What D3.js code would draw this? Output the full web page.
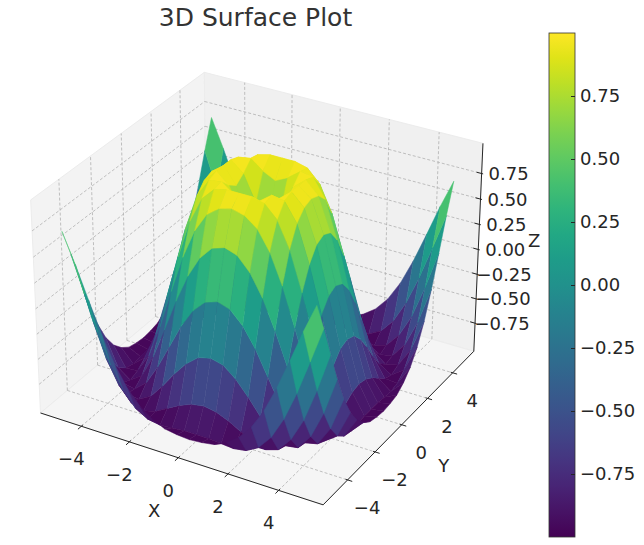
<!DOCTYPE html>
<html>
<head>
<meta charset="utf-8">
<script src="https://cdn.jsdelivr.net/npm/d3@7"></script>
<style>
  body { margin: 0; background: #fff; }
  text { font-family: "DejaVu Sans", sans-serif; }
</style>
</head>
<body>
<script>
// surface grid (x and y share the same steps)
var gridX = [-5, -4.5, -4, -3.5, -3, -2.5, -2, -1.5, -1, -0.5, 0, 0.5, 1, 1.5, 2, 2.5, 3, 3.5, 4, 4.5, 5]
var gridY = [-5, -4.5, -4, -3.5, -3, -2.5, -2, -1.5, -1, -0.5, 0, 0.5, 1, 1.5, 2, 2.5, 3, 3.5, 4, 4.5, 5]

// z for the quarter x >= 0, y >= 0 (row = |x| step, col = |y| step, 0 .. 5 by 0.5)
// the surface is mirrored into the other three quarters
var zQuarter = [
    [ 0.00,  0.48,  0.84,  1.00,  0.91,  0.60,  0.14, -0.35, -0.76, -0.98, -0.96],
    [ 0.48,  0.65,  0.90,  1.00,  0.88,  0.56,  0.10, -0.38, -0.78, -0.98, -0.95],
    [ 0.84,  0.90,  0.99,  0.97,  0.79,  0.43, -0.02, -0.48, -0.83, -0.99, -0.93],
    [ 1.00,  1.00,  0.97,  0.85,  0.60,  0.22, -0.21, -0.62, -0.90, -1.00, -0.87],
    [ 0.91,  0.88,  0.79,  0.60,  0.31, -0.06, -0.45, -0.78, -0.97, -0.98, -0.78],
    [ 0.60,  0.56,  0.43,  0.22, -0.06, -0.38, -0.69, -0.92, -1.00, -0.91, -0.64],
    [ 0.14,  0.10, -0.02, -0.21, -0.45, -0.69, -0.89, -0.99, -0.96, -0.77, -0.44],
    [-0.35, -0.38, -0.48, -0.62, -0.78, -0.92, -0.99, -0.97, -0.82, -0.55, -0.18],
    [-0.76, -0.78, -0.83, -0.90, -0.97, -1.00, -0.96, -0.82, -0.59, -0.26,  0.12],
    [-0.98, -0.98, -0.99, -1.00, -0.98, -0.91, -0.77, -0.55, -0.26,  0.08,  0.43],
    [-0.96, -0.95, -0.93, -0.87, -0.78, -0.64, -0.44, -0.18,  0.12,  0.43,  0.71]
]

var xTicks = [-4, -2, 0, 2, 4]
var yTicks = [-4, -2, 0, 2, 4]
var zTicks = [-0.75, -0.5, -0.25, 0, 0.25, 0.5, 0.75]
var cbarTicks = [-0.75, -0.5, -0.25, 0, 0.25, 0.5, 0.75]

var W = 644, H = 545
var svg = d3.select('body').append('svg')
    .attr('width', W)
    .attr('height', H)

// full z grid
var mid = (gridX.length - 1) / 2
var Z = gridX.map(function (x, i) {
    return gridY.map(function (y, j) {
        return zQuarter[Math.abs(i - mid)][Math.abs(j - mid)]
    })
})

// camera, same as matplotlib default view (elev 30, azim -60, perspective)
var elev = 30 * Math.PI / 180, azim = -60 * Math.PI / 180, dist = 10
var w = [Math.cos(elev) * Math.cos(azim), Math.cos(elev) * Math.sin(azim), Math.sin(elev)]
var u = [-Math.sin(azim), Math.cos(azim), 0]
var v = [-Math.sin(elev) * Math.cos(azim), -Math.sin(elev) * Math.sin(azim), Math.cos(elev)]

// pane extents in data units
var xLo = -5.729, xHi = 5.729, yLo = -5.729, yHi = 5.729, zLo = -1.0417, zHi = 1.0417

var sx = d3.scaleLinear().domain([xLo, xHi]).range([-4 / 7, 4 / 7])
var sy = d3.scaleLinear().domain([yLo, yHi]).range([-4 / 7, 4 / 7])
var sz = d3.scaleLinear().domain([zLo, zHi]).range([-3 / 7, 3 / 7])
var px = d3.scaleLinear().domain([0, 0.1]).range([261, 261 + 283.4])
var py = d3.scaleLinear().domain([0, 0.1]).range([278.6, 278.6 - 283.4])

function dot(a, b) { return a[0] * b[0] + a[1] * b[1] + a[2] * b[2] }

function project(x, y, z) {
    var d = [sx(x), sy(y), sz(z)]
    var dw = dot(w, d), k = dist - dw
    return { x: px(dot(u, d) / k), y: py(dot(v, d) / k), depth: dw }
}

function poly(pts) {
    return 'M' + pts.map(function (p) {
        var q = project(p[0], p[1], p[2])
        return q.x.toFixed(2) + ',' + q.y.toFixed(2)
    }).join('L') + 'Z'
}

function seg(a, b) {
    var p = project(a[0], a[1], a[2]), q = project(b[0], b[1], b[2])
    return 'M' + p.x + ',' + p.y + 'L' + q.x + ',' + q.y
}

// panes
var panes = svg.append('g')
panes.append('path').attr('d', poly([[xLo, yLo, zLo], [xLo, yHi, zLo], [xLo, yHi, zHi], [xLo, yLo, zHi]]))
    .attr('fill', '#f3f3f3').attr('stroke', '#ececec')
panes.append('path').attr('d', poly([[xLo, yHi, zLo], [xHi, yHi, zLo], [xHi, yHi, zHi], [xLo, yHi, zHi]]))
    .attr('fill', '#f0f0f0').attr('stroke', '#ececec')
panes.append('path').attr('d', poly([[xLo, yLo, zLo], [xHi, yLo, zLo], [xHi, yHi, zLo], [xLo, yHi, zLo]]))
    .attr('fill', '#f5f5f5').attr('stroke', '#ececec')

// grid
var gridLines = []
xTicks.forEach(function (t) {
    gridLines.push([[t, yLo, zLo], [t, yHi, zLo]])
    gridLines.push([[t, yHi, zLo], [t, yHi, zHi]])
})
yTicks.forEach(function (t) {
    gridLines.push([[xLo, t, zLo], [xHi, t, zLo]])
    gridLines.push([[xLo, t, zLo], [xLo, t, zHi]])
})
zTicks.forEach(function (t) {
    gridLines.push([[xLo, yLo, t], [xLo, yHi, t]])
    gridLines.push([[xLo, yHi, t], [xHi, yHi, t]])
})
svg.append('g').selectAll('path').data(gridLines).join('path')
    .attr('d', function (l) { return seg(l[0], l[1]) })
    .attr('stroke', '#b0b0b0')
    .attr('stroke-width', 0.8)
    .attr('stroke-dasharray', '3,2')
    .attr('fill', 'none')

// axis lines and ticks
var axisCol = '#262626'
var ax = svg.append('g').attr('stroke', axisCol).attr('stroke-width', 1).attr('fill', 'none')
ax.append('path').attr('d', seg([xLo, yLo, zLo], [xHi, yLo, zLo]))
ax.append('path').attr('d', seg([xHi, yLo, zLo], [xHi, yHi, zLo]))
ax.append('path').attr('d', seg([xHi, yHi, zLo], [xHi, yHi, zHi]))
xTicks.forEach(function (t) { ax.append('path').attr('d', seg([t, yLo + 0.1, zLo], [t, yLo - 0.22, zLo])) })
yTicks.forEach(function (t) { ax.append('path').attr('d', seg([xHi - 0.08, t, zLo], [xHi + 0.18, t, zLo])) })
zTicks.forEach(function (t) { ax.append('path').attr('d', seg([xHi - 0.2, yHi, t], [xHi + 0.06, yHi, t])) })

var fmtInt = d3.format('d'), fmt2 = d3.format('.2f')
var labels = svg.append('g')
    .attr('fill', axisCol)
    .attr('font-size', 18)
    .attr('text-anchor', 'middle')
    .attr('dominant-baseline', 'central')

xTicks.forEach(function (t) {
    var p = project(t, yLo, zLo)
    labels.append('text').attr('x', p.x - 10).attr('y', p.y + 32.5).text(fmtInt(t))
})
yTicks.forEach(function (t) {
    var p = project(xHi, t, zLo)
    labels.append('text').attr('x', p.x + 19.5).attr('y', p.y + 28).text(fmtInt(t))
})
zTicks.forEach(function (t) {
    var p = project(xHi, yHi, t)
    labels.append('text').attr('x', p.x + 27).attr('y', p.y).text(fmt2(t))
})
var pX = project(0, yLo, zLo), pY = project(xHi, 0, zLo), pZ = project(xHi, yHi, 0)
labels.append('text').attr('x', pX.x - 24).attr('y', pX.y + 53).text('X')
labels.append('text').attr('x', pY.x + 42).attr('y', pY.y + 41).text('Y')
labels.append('text').attr('x', pZ.x + 56).attr('y', pZ.y - 9).text('Z')

// surface faces
var color = d3.scaleSequential(d3.interpolateViridis).domain(d3.extent(d3.merge(Z)))
var faces = []
for (var i = 0; i < gridX.length - 1; i++) {
    for (var j = 0; j < gridY.length - 1; j++) {
        var pts = [
            [gridX[i], gridY[j], Z[i][j]],
            [gridX[i + 1], gridY[j], Z[i + 1][j]],
            [gridX[i + 1], gridY[j + 1], Z[i + 1][j + 1]],
            [gridX[i], gridY[j + 1], Z[i][j + 1]]
        ]
        faces.push({
            pts: pts,
            z: d3.mean(pts, function (p) { return p[2] }),
            depth: d3.mean(pts, function (p) { return project(p[0], p[1], p[2]).depth })
        })
    }
}
faces.sort(function (a, b) { return a.depth - b.depth })

svg.append('g').selectAll('path').data(faces).join('path')
    .attr('d', function (f) { return poly(f.pts) })
    .attr('fill', function (f) { return color(f.z) })
    .attr('stroke', function (f) { return color(f.z) })
    .attr('stroke-width', 0.5)
    .attr('stroke-linejoin', 'round')

// title
svg.append('text')
    .attr('x', 255.5)
    .attr('y', 26)
    .attr('text-anchor', 'middle')
    .attr('font-size', 25)
    .attr('fill', '#333')
    .text('3D Surface Plot')

// colorbar
var cbX = 549, cbW = 26, cbTop = 33, cbBottom = 537
var cbScale = d3.scaleLinear().domain(color.domain()).range([cbBottom, cbTop])
var grad = svg.append('defs').append('linearGradient')
    .attr('id', 'cbgrad')
    .attr('x1', 0).attr('y1', 1).attr('x2', 0).attr('y2', 0)
d3.range(0, 1.0001, 0.05).forEach(function (k) {
    grad.append('stop')
        .attr('offset', k)
        .attr('stop-color', d3.interpolateViridis(k))
})
svg.append('rect')
    .attr('x', cbX).attr('y', cbTop)
    .attr('width', cbW).attr('height', cbBottom - cbTop)
    .attr('fill', 'url(#cbgrad)')
    .attr('stroke', '#333')
    .attr('stroke-width', 0.8)

var cbAxis = svg.append('g')
    .attr('transform', 'translate(' + (cbX + cbW) + ',0)')
    .call(d3.axisRight(cbScale).tickValues(cbarTicks).tickFormat(fmt2).tickSize(-4).tickPadding(5))
cbAxis.select('.domain').remove()
cbAxis.attr('font-size', 18).attr('font-family', '"DejaVu Sans", sans-serif').attr('color', axisCol)
</script>
</body>
</html>
